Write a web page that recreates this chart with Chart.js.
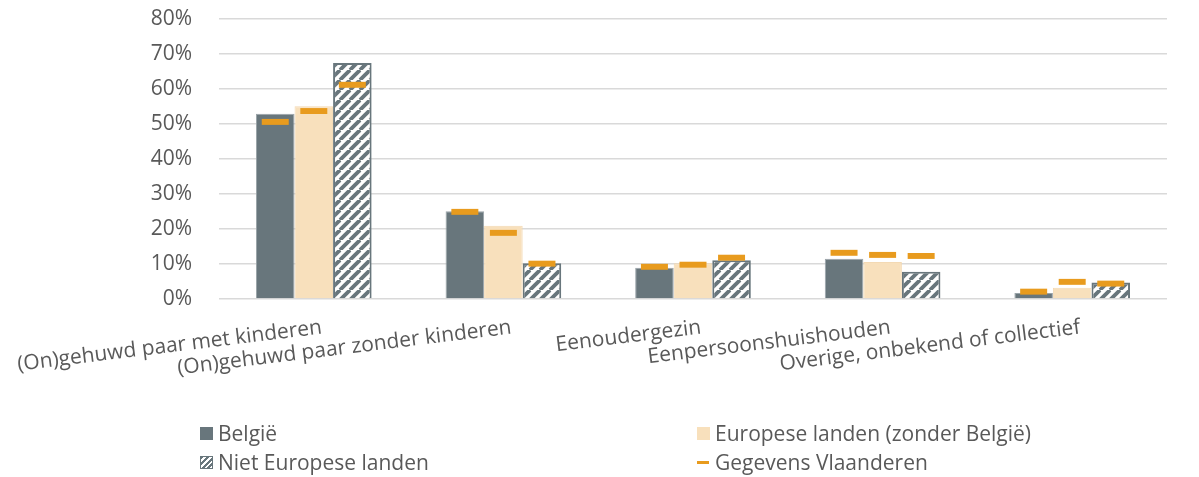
<!DOCTYPE html>
<html>
<head>
<meta charset="utf-8">
<script src="https://cdn.jsdelivr.net/npm/chart.js@4/dist/chart.umd.min.js"></script>
<style>
  body { margin:0; background:#fff; font-family: "Open Sans", sans-serif; color:#595959; }
  .wrap { position:relative; width:1199px; height:477px; }
  canvas { display:block; }
  .legend { position:absolute; left:0; top:0; font-size:21px; color:#595959; }
  .legend .item { position:absolute; white-space:nowrap; display:flex; align-items:center; }
  .sw { width:13px; height:13px; display:inline-block; margin-right:5px; }
</style>
</head>
<body>
<div class="wrap">
  <canvas id="c" width="1199" height="477"></canvas>
  <div class="legend">
    <div class="item" style="left:200px;top:419px"><span class="sw" style="background:#68767C"></span>België</div>
    <div class="item" style="left:697px;top:419px"><span class="sw" style="background:#F8E0BC"></span>Europese landen (zonder België)</div>
    <div class="item" style="left:200px;top:448px"><span class="sw" style="border:1px solid #68767C;width:11px;height:11px;background:repeating-linear-gradient(135deg,#68767C 0 2px,#fff 2px 4px)"></span>Niet Europese landen</div>
    <div class="item" style="left:697px;top:448px"><span class="sw" style="height:3px;width:12px;background:#E89B1E;margin-right:6px"></span>Gegevens Vlaanderen</div>
  </div>
</div>
<script>
// categorieën en waarden (%)
const categories = ['(On)gehuwd paar met kinderen', '(On)gehuwd paar zonder kinderen', 'Eenoudergezin', 'Eenpersoonshuishouden', 'Overige, onbekend of collectief'];
const belgie       = [52.9, 25.1, 8.9, 11.5, 1.7];
const europa       = [55.1, 20.9, 10.2, 10.6, 3.2];
const nietEuropa   = [67.4, 10.2, 11.1, 7.8, 4.7];
// Gegevens Vlaanderen (streepjes)
const vlBelgie     = [50.6, 24.9, 9.2, 13.2, 2.1];
const vlEuropa     = [53.7, 18.9, 9.8, 12.6, 4.9];
const vlNietEuropa = [61.2, 10.1, 11.8, 12.3, 4.4];
const yTicks = [0, 10, 20, 30, 40, 50, 60, 70, 80];

// arcering voor Niet Europese landen
function hatch() {
  const s = 10, t = document.createElement('canvas');
  t.width = s; t.height = s;
  const g = t.getContext('2d');
  g.fillStyle = '#fff'; g.fillRect(0, 0, s, s);
  g.strokeStyle = '#68767C'; g.lineWidth = 3.8;
  for (const o of [-s, 0, s]) {
    g.beginPath(); g.moveTo(o, s); g.lineTo(o + s, 0); g.stroke();
  }
  return g.createPattern(t, 'repeat');
}

const dash = v => v.map(x => [x - 0.85, x + 0.85]);
const catPct = 0.61;
const font = { size: 21, family: '"Open Sans"' };

new Chart(document.getElementById('c').getContext('2d'), {
  type: 'bar',
  data: {
    labels: categories,
    datasets: [
      { label: 'Gegevens Vlaanderen', data: dash(vlBelgie), stack: 'a', backgroundColor: '#E89B1E', barPercentage: 0.7, categoryPercentage: catPct, order: 0 },
      { label: 'Gegevens Vlaanderen', data: dash(vlEuropa), stack: 'b', backgroundColor: '#E89B1E', barPercentage: 0.7, categoryPercentage: catPct, order: 0 },
      { label: 'Gegevens Vlaanderen', data: dash(vlNietEuropa), stack: 'c', backgroundColor: '#E89B1E', barPercentage: 0.7, categoryPercentage: catPct, order: 0 },
      { label: 'België', data: belgie, stack: 'a', backgroundColor: '#68767C', borderColor: '#9AA4A9', borderWidth: 1, barPercentage: 1, categoryPercentage: catPct, order: 1 },
      { label: 'Europese landen (zonder België)', data: europa, stack: 'b', backgroundColor: '#F8E0BC', borderColor: '#F3D9B3', borderWidth: 1, barPercentage: 1, categoryPercentage: catPct, order: 1 },
      { label: 'Niet Europese landen', data: nietEuropa, stack: 'c', backgroundColor: hatch(), borderColor: '#68767C', borderWidth: 2, barPercentage: 1, categoryPercentage: catPct, order: 1 }
    ]
  },
  options: {
    responsive: false, animation: false,
    layout: { padding: { top: 19, right: 32, left: 0, bottom: 0 } },
    plugins: { legend: { display: false }, tooltip: { enabled: false } },
    scales: {
      x: {
        grid: { display: false }, border: { display: false },
        ticks: { color: '#595959', font, minRotation: 7, maxRotation: 7, autoSkip: false, padding: 8, labelOffset: 8 },
        afterFit: s => { s.height = 178; s.paddingLeft = 0; s.paddingRight = 0; }
      },
      y: {
        min: 0, max: 80, stacked: false,
        afterBuildTicks: s => { s.ticks = yTicks.map(v => ({ value: v })); },
        grid: { color: '#D9D9D9', lineWidth: 1.5, drawTicks: true, tickLength: 27, tickColor: 'rgba(0,0,0,0)' }, border: { display: false },
        ticks: { color: '#595959', font, padding: 0, callback: v => v + '%' },
        afterFit: s => { s.width = 219; }
      }
    }
  }
});
</script>
</body>
</html>
